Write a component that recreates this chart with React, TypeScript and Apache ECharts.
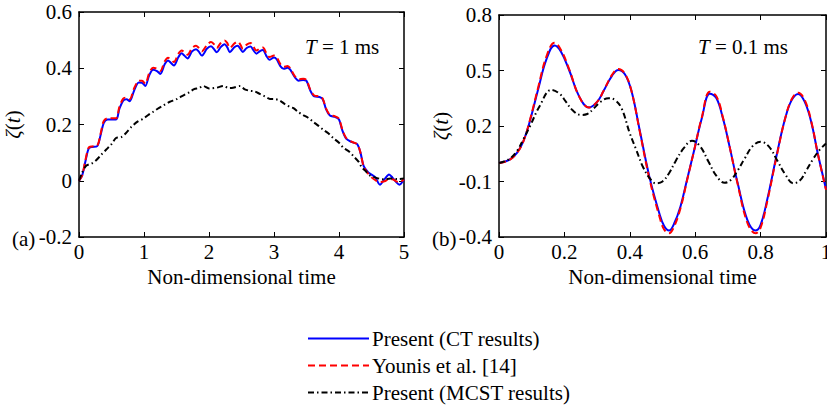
import React, { useEffect, useRef } from 'react';
import * as echarts from 'echarts';

const FONT = 'Liberation Serif';

// ---- Panel (a): T = 1 ms ----
const leftT = [0, 0.05, 0.1, 0.15, 0.2, 0.28, 0.33, 0.38, 0.44, 0.57,
  0.62, 0.68, 0.73, 0.78, 0.85, 0.92, 0.97, 1.02, 1.08, 1.14,
  1.2, 1.25, 1.32, 1.37, 1.41, 1.46, 1.53, 1.58, 1.62, 1.67,
  1.74, 1.8, 1.84, 1.89, 1.97, 2.03, 2.07, 2.12, 2.18, 2.24,
  2.28, 2.32, 2.39, 2.44, 2.48, 2.52, 2.58, 2.64, 2.68, 2.73,
  2.79, 2.83, 2.88, 2.93, 3.0, 3.04, 3.1, 3.15, 3.21, 3.25,
  3.32, 3.38, 3.45, 3.5, 3.56, 3.62, 3.7, 3.75, 3.8, 3.86,
  3.94, 4.0, 4.05, 4.11, 4.2, 4.28, 4.33, 4.38, 4.45, 4.5,
  4.56, 4.63, 4.7, 4.77, 4.82, 4.88, 4.93, 5.0];
const leftCT = [0, 0.02, 0.07, 0.115, 0.12, 0.123, 0.16, 0.205, 0.218, 0.218,
  0.255, 0.285, 0.29, 0.283, 0.322, 0.349, 0.348, 0.337, 0.375, 0.395,
  0.39, 0.38, 0.415, 0.428, 0.42, 0.41, 0.44, 0.453, 0.445, 0.435,
  0.46, 0.468, 0.46, 0.445, 0.47, 0.478, 0.47, 0.457, 0.475, 0.485,
  0.475, 0.457, 0.475, 0.48, 0.47, 0.458, 0.472, 0.477, 0.465, 0.452,
  0.462, 0.465, 0.445, 0.43, 0.438, 0.432, 0.407, 0.398, 0.402, 0.395,
  0.368, 0.356, 0.358, 0.355, 0.32, 0.3, 0.298, 0.29, 0.255, 0.232,
  0.227, 0.218, 0.18, 0.15, 0.137, 0.13, 0.1, 0.052, 0.03, 0.022,
  0.012, -0.014, 0.005, 0.022, 0.012, -0.005, -0.014, 0.005];
const leftYounis = [0, 0.02, 0.075, 0.118, 0.122, 0.125, 0.165, 0.212, 0.222, 0.222,
  0.262, 0.292, 0.296, 0.29, 0.33, 0.355, 0.356, 0.345, 0.383, 0.402,
  0.398, 0.39, 0.425, 0.437, 0.432, 0.422, 0.452, 0.463, 0.457, 0.448,
  0.472, 0.48, 0.473, 0.46, 0.483, 0.493, 0.487, 0.472, 0.49, 0.499,
  0.49, 0.472, 0.488, 0.495, 0.485, 0.47, 0.484, 0.49, 0.478, 0.463,
  0.472, 0.474, 0.455, 0.44, 0.445, 0.44, 0.414, 0.405, 0.408, 0.4,
  0.372, 0.361, 0.363, 0.358, 0.323, 0.303, 0.3, 0.292, 0.257, 0.234,
  0.229, 0.22, 0.183, 0.152, 0.138, 0.13, 0.1, 0.05, 0.025, 0.012,
  0.002, -0.005, -0.002, 0.005, 0.005, -0.002, -0.005, 0.005];
const leftMcstT = [0, 0.05, 0.11, 0.2, 0.26, 0.34, 0.42, 0.5, 0.57, 0.65,
  0.72, 0.8, 0.9, 1.0, 1.06, 1.14, 1.21, 1.3, 1.39, 1.5,
  1.6, 1.7, 1.77, 1.85, 1.91, 2.0, 2.12, 2.22, 2.3, 2.37,
  2.48, 2.55, 2.63, 2.7, 2.78, 2.86, 2.94, 3.02, 3.09, 3.17,
  3.25, 3.3, 3.37, 3.45, 3.52, 3.6, 3.68, 3.76, 3.84, 3.91,
  4.0, 4.07, 4.15, 4.22, 4.3, 4.35, 4.42, 4.48, 4.55, 4.63,
  4.7, 4.79, 4.9, 5.0];
const leftMcst = [0, 0.03, 0.053, 0.062, 0.072, 0.092, 0.111, 0.13, 0.152, 0.155,
  0.169, 0.19, 0.21, 0.222, 0.233, 0.245, 0.256, 0.268, 0.28, 0.29,
  0.303, 0.315, 0.326, 0.33, 0.337, 0.328, 0.331, 0.337, 0.33, 0.331,
  0.337, 0.325, 0.32, 0.318, 0.309, 0.3, 0.291, 0.29, 0.285, 0.272,
  0.262, 0.258, 0.245, 0.233, 0.225, 0.21, 0.196, 0.181, 0.168, 0.152,
  0.135, 0.117, 0.105, 0.088, 0.068, 0.048, 0.032, 0.018, 0.012, 0.007,
  0.005, 0.008, 0.006, 0.008];

// ---- Panel (b): T = 0.1 ms ----
const rightT = [0, 0.03, 0.055, 0.075, 0.095, 0.12, 0.145, 0.17, 0.19, 0.215,
  0.245, 0.275, 0.3, 0.32, 0.345, 0.365, 0.385, 0.405, 0.43, 0.46,
  0.49, 0.505, 0.52, 0.535, 0.555, 0.575, 0.595, 0.62, 0.645, 0.665,
  0.685, 0.705, 0.73, 0.76, 0.785, 0.8, 0.82, 0.85, 0.875, 0.895,
  0.915, 0.935, 0.955, 0.975, 1.0];
const rightCT = [0, 0.015, 0.055, 0.12, 0.23, 0.4, 0.56, 0.635, 0.6, 0.5,
  0.36, 0.3, 0.33, 0.39, 0.47, 0.503, 0.48, 0.39, 0.18, -0.075,
  -0.27, -0.34, -0.365, -0.33, -0.235, -0.09, 0.055, 0.24, 0.375, 0.35,
  0.24, 0.09, -0.11, -0.31, -0.365, -0.335, -0.2, 0.05, 0.24, 0.34,
  0.373, 0.33, 0.22, 0.05, -0.14];
const rightYounis = [0, 0.015, 0.055, 0.12, 0.235, 0.41, 0.575, 0.65, 0.61, 0.505,
  0.36, 0.3, 0.33, 0.39, 0.475, 0.508, 0.483, 0.39, 0.175, -0.085,
  -0.285, -0.36, -0.38, -0.345, -0.245, -0.095, 0.055, 0.245, 0.385, 0.36,
  0.245, 0.09, -0.115, -0.325, -0.38, -0.35, -0.21, 0.045, 0.24, 0.345,
  0.38, 0.34, 0.225, 0.05, -0.145];
const rightMcstT = [0, 0.03, 0.055, 0.075, 0.095, 0.125, 0.16, 0.185, 0.205, 0.225,
  0.25, 0.27, 0.29, 0.31, 0.335, 0.355, 0.375, 0.4, 0.42, 0.44,
  0.46, 0.48, 0.5, 0.52, 0.54, 0.565, 0.59, 0.615, 0.64, 0.665,
  0.69, 0.71, 0.73, 0.75, 0.775, 0.8, 0.825, 0.85, 0.875, 0.9,
  0.92, 0.94, 0.96, 0.98, 1.0];
const rightMcst = [0, 0.02, 0.065, 0.13, 0.2, 0.31, 0.395, 0.375, 0.33, 0.285,
  0.26, 0.265, 0.295, 0.33, 0.35, 0.34, 0.295, 0.16, 0.07, -0.02,
  -0.08, -0.11, -0.1, -0.055, 0.01, 0.08, 0.12, 0.09, 0.01, -0.07,
  -0.107, -0.09, -0.04, 0.02, 0.09, 0.115, 0.09, 0.016, -0.06, -0.11,
  -0.095, -0.04, 0.02, 0.07, 0.105];

const rightYTicks = [-0.4, -0.1, 0.2, 0.5, 0.8];
const seriesNames = ['Present (CT results)', 'Younis et al. [14]', 'Present (MCST results)'];

const zip = (t: number[], v: number[]) => t.map((x, i) => [x, v[i]]);

const axisLine = { show: true, onZero: false, lineStyle: { color: '#000', width: 1.5 } };
const tick = { show: true, inside: true, length: 5, lineStyle: { color: '#000', width: 1 } };
const labelStyle = { color: '#000', fontFamily: FONT, fontSize: 21 };
const fmt = (v: number) => String(+v.toFixed(1));

function buildOption() {
  const xBase = (grid: number, min: number, max: number, interval: number, pos: 'top' | 'bottom') => ({
    type: 'value', gridIndex: grid, position: pos, min, max, interval,
    axisLine, axisTick: tick, splitLine: { show: false },
    axisLabel: pos === 'bottom' ? { ...labelStyle, margin: 4, formatter: fmt } : { show: false },
    ...(pos === 'bottom' ? {
      name: 'Non-dimensional time', nameLocation: 'middle', nameGap: 29, nameMoveOverlap: false,
      nameTextStyle: { ...labelStyle },
    } : {}),
  });
  const nameZeta = {
    name: '{i|ζ}({i|t})', nameLocation: 'middle', nameRotate: 90, nameMoveOverlap: false,
    nameTextStyle: { ...labelStyle, rich: { i: { fontStyle: 'italic', fontFamily: FONT, fontSize: 21, color: '#000' } } },
  };
  const lineS = (name: string, data: number[][], xi: number, yi: number, color: string, type: any, smooth: number) => ({
    name, type: 'line', data, xAxisIndex: xi, yAxisIndex: yi, symbol: 'none', showSymbol: false,
    smooth, lineStyle: { color, width: 2, type }, itemStyle: { color }, z: 2,
  });
  const dash = [7, 4];
  const dashDot = [6, 3, 1.5, 3];
  const italicRich = { i: { fontStyle: 'italic', fontFamily: FONT, fontSize: 21, fill: '#000' } };
  return {
    animation: false,
    backgroundColor: '#fff',
    textStyle: { fontFamily: FONT },
    grid: [
      { left: 79, top: 12, width: 325, height: 225, outerBoundsMode: 'none', containLabel: false },
      { left: 499, top: 15, width: 327, height: 222, outerBoundsMode: 'none', containLabel: false },
    ],
    xAxis: [
      xBase(0, 0, 5, 1, 'bottom'),
      xBase(0, 0, 5, 1, 'top'),
      xBase(1, 0, 1, 0.2, 'bottom'),
      xBase(1, 0, 1, 0.2, 'top'),
    ],
    yAxis: [
      { type: 'value', gridIndex: 0, position: 'left', min: -0.2, max: 0.6, interval: 0.2,
        axisLine, axisTick: tick, splitLine: { show: false },
        axisLabel: { ...labelStyle, margin: 7, formatter: fmt }, ...nameZeta, nameGap: 56 },
      { type: 'value', gridIndex: 0, position: 'right', min: -0.2, max: 0.6, interval: 0.2,
        axisLine, axisTick: tick, splitLine: { show: false }, axisLabel: { show: false } },
      { type: 'value', gridIndex: 1, position: 'left', min: -0.4, max: 0.8,
        axisLine, axisTick: { ...tick, customValues: rightYTicks }, splitLine: { show: false },
        axisLabel: { ...labelStyle, margin: 7, customValues: rightYTicks, formatter: fmt },
        ...nameZeta, nameGap: 48 },
      { type: 'value', gridIndex: 1, position: 'right', min: -0.4, max: 0.8,
        axisLine, axisTick: { ...tick, customValues: rightYTicks }, splitLine: { show: false }, axisLabel: { show: false } },
    ],
    legend: {
      orient: 'vertical', left: 302, top: 323, itemWidth: 61, itemHeight: 14, itemGap: 6,
      data: seriesNames,
      itemStyle: { opacity: 0 },
      textStyle: { ...labelStyle, padding: [0, 0, 0, -2] },
    },
    graphic: [
      { type: 'text', left: 12, top: 228, style: { text: '(a)', font: `21px ${FONT}`, fill: '#000' } },
      { type: 'text', left: 432, top: 228, style: { text: '(b)', font: `21px ${FONT}`, fill: '#000' } },
      { type: 'text', left: 305, top: 36, style: { text: '{i|T} = 1 ms', font: `21px ${FONT}`, fill: '#000', rich: italicRich } },
      { type: 'text', left: 698, top: 36, style: { text: '{i|T} = 0.1 ms', font: `21px ${FONT}`, fill: '#000', rich: italicRich } },
    ],
    series: [
      lineS(seriesNames[0], zip(leftT, leftCT), 0, 0, '#0000ff', 'solid', 0.3),
      lineS(seriesNames[1], zip(leftT, leftYounis), 0, 0, '#ff0000', dash, 0.3),
      lineS(seriesNames[2], zip(leftMcstT, leftMcst), 0, 0, '#000000', dashDot, 0.3),
      lineS(seriesNames[0], zip(rightT, rightCT), 2, 2, '#0000ff', 'solid', 0.4),
      lineS(seriesNames[1], zip(rightT, rightYounis), 2, 2, '#ff0000', dash, 0.4),
      lineS(seriesNames[2], zip(rightMcstT, rightMcst), 2, 2, '#000000', dashDot, 0.4),
    ],
  };
}

export default function App() {
  const ref = useRef<HTMLDivElement>(null);
  useEffect(() => {
    if (!ref.current) return;
    const chart = echarts.init(ref.current, null, { renderer: 'svg' });
    chart.setOption(buildOption() as any);
    return () => chart.dispose();
  }, []);
  return <div ref={ref} style={{ position: 'absolute', left: 0, top: 0, width: 827, height: 409 }} />;
}
